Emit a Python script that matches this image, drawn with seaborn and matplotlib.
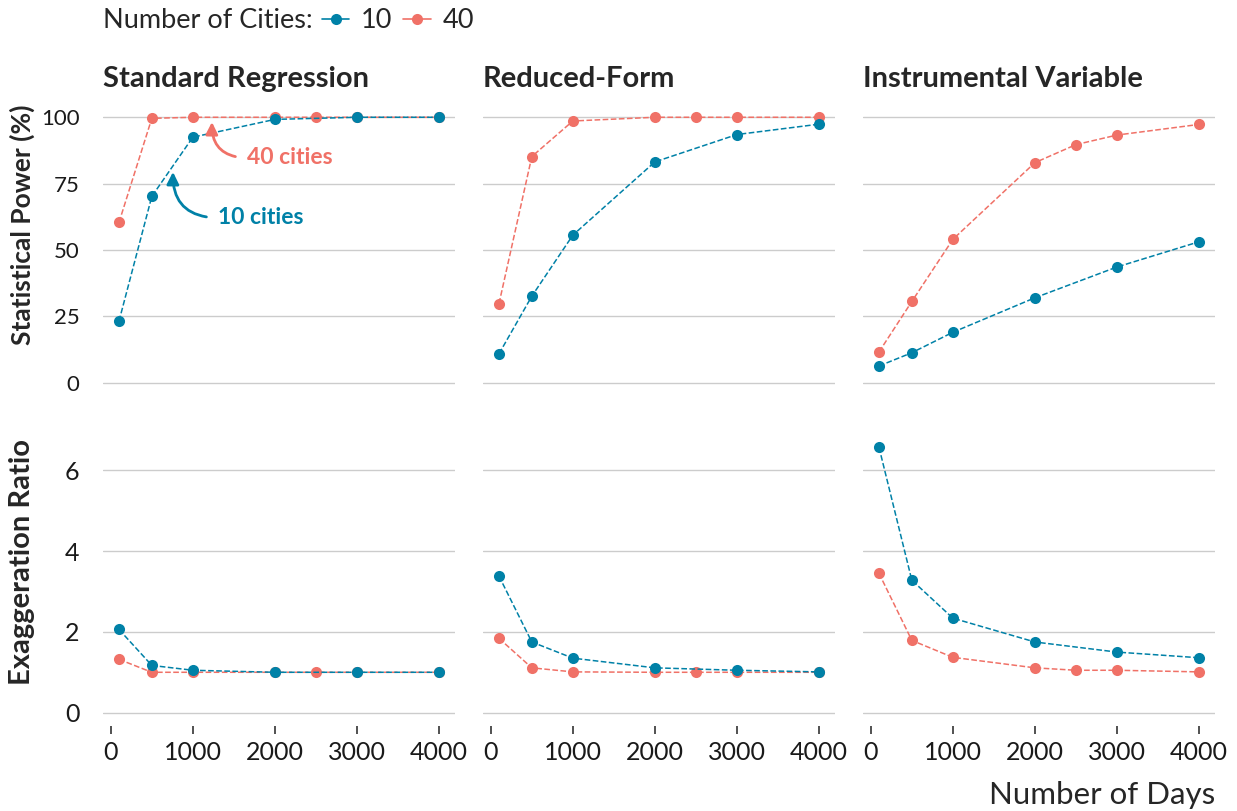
import numpy as np
import pandas as pd
import matplotlib.pyplot as plt
import seaborn as sns
from matplotlib.lines import Line2D

days_10 = [100, 500, 1000, 2000, 3000, 4000]
days_40 = [100, 500, 1000, 2000, 2500, 3000, 4000]

power_std_10 = [23.2, 70.2, 92.5, 99.2, 100.0, 100.0]
power_std_40 = [60.4, 99.6, 100.0, 100.0, 100.0, 100.0, 100.0]
power_rf_10 = [10.9, 32.6, 55.6, 83.2, 93.5, 97.4]
power_rf_40 = [29.8, 85.2, 98.6, 100.0, 100.0, 100.0, 100.0]
power_iv_10 = [6.3, 11.3, 19.0, 32.0, 43.6, 53.1]
power_iv_40 = [11.6, 30.6, 54.0, 82.9, 89.7, 93.3, 97.3]

exag_std_10 = [2.06, 1.17, 1.05, 1.0, 1.0, 1.0]
exag_std_40 = [1.32, 1.0, 1.0, 1.0, 1.0, 1.0, 1.0]
exag_rf_10 = [3.38, 1.75, 1.35, 1.11, 1.05, 1.01]
exag_rf_40 = [1.84, 1.11, 1.01, 1.0, 1.0, 1.0, 1.0]
exag_iv_10 = [6.57, 3.28, 2.34, 1.75, 1.50, 1.36]
exag_iv_40 = [3.45, 1.79, 1.37, 1.11, 1.05, 1.05, 1.01]

models = ["Standard Regression", "Reduced-Form", "Instrumental Variable"]
power_10 = [power_std_10, power_rf_10, power_iv_10]
power_40 = [power_std_40, power_rf_40, power_iv_40]
exag_10 = [exag_std_10, exag_rf_10, exag_iv_10]
exag_40 = [exag_std_40, exag_rf_40, exag_iv_40]

rows = []
for i, m in enumerate(models):
    for d, p, e in zip(days_10, power_10[i], exag_10[i]):
        rows.append((m, "10", d, p, e))
    for d, p, e in zip(days_40, power_40[i], exag_40[i]):
        rows.append((m, "40", d, p, e))
df = pd.DataFrame(rows, columns=["model", "cities", "days", "power", "exaggeration"])

blue = "#0081a7"
red = "#f07167"
palette = {"10": blue, "40": red}

sns.set_theme(style="whitegrid")
plt.rcParams["font.family"] = ["Lato", "DejaVu Sans"]

fig, axes = plt.subplots(2, 3, figsize=(12.37, 8.11), dpi=100)
fig.subplots_adjust(left=103 / 1237, right=1215 / 1237, top=1 - 104 / 811,
                    bottom=1 - 726 / 811, wspace=28 / 352, hspace=38 / 292)

for j, m in enumerate(models):
    sub = df[df["model"] == m]
    for i, col in enumerate(["power", "exaggeration"]):
        ax = axes[i, j]
        sns.lineplot(data=sub, x="days", y=col, hue="cities", hue_order=["40", "10"],
                     palette=palette, marker="o", markersize=8, markeredgewidth=0,
                     linestyle="--", linewidth=1.1, ax=ax, legend=False)
        ax.set_xlim(-95, 4195)
        ax.set_xticks([0, 1000, 2000, 3000, 4000])
        ax.set_xlabel("")
        ax.set_ylabel("")
        ax.grid(axis="x", visible=False)
        ax.grid(axis="y", color="#cccccc", linewidth=1)
        for s in ax.spines.values():
            s.set_visible(False)
        if i == 0:
            ax.set_ylim(-5, 105)
            ax.set_yticks([0, 25, 50, 75, 100])
            ax.tick_params(axis="x", bottom=False, labelbottom=False)
            ax.tick_params(axis="y", length=0, pad=17, labelsize=16, labelcolor="#1a1a1a")
            ax.set_title(m, loc="left", fontsize=21, fontweight="bold", pad=12)
        else:
            ax.set_ylim(-0.33, 6.9)
            ax.set_yticks([0, 2, 4, 6])
            ax.tick_params(axis="y", length=0, pad=17, labelsize=18, labelcolor="#1a1a1a")
            ax.tick_params(axis="x", length=6, width=1.2, color="#333333", pad=5,
                           labelsize=18, labelcolor="#1a1a1a", bottom=True)
        if j > 0:
            ax.tick_params(axis="y", labelleft=False)

# annotazioni
ax0 = axes[0, 0]
ax0.annotate("40 cities", xy=(1233, 98.2), xytext=(1659, 84.7), color=red,
             fontsize=16.5, fontweight="bold", va="center", ha="left",
             arrowprops=dict(arrowstyle="-|>", color=red, lw=2, mutation_scale=18,
                             shrinkA=6, shrinkB=0, relpos=(0, 0.5),
                             connectionstyle="arc3,rad=-0.5"))
ax0.annotate("10 cities", xy=(758, 79.4), xytext=(1306, 62.1), color=blue,
             fontsize=16.5, fontweight="bold", va="center", ha="left",
             arrowprops=dict(arrowstyle="-|>", color=blue, lw=2, mutation_scale=18,
                             shrinkA=6, shrinkB=0, relpos=(0, 0.5),
                             connectionstyle="arc3,rad=-0.5"))

fig.text(22 / 1237, 1 - 225 / 811, "Statistical Power (%)", rotation=90,
         ha="center", va="center", fontsize=19, fontweight="bold")
fig.text(22 / 1237, 1 - 562 / 811, "Exaggeration Ratio", rotation=90,
         ha="center", va="center", fontsize=21, fontweight="bold")
fig.text(1215 / 1237, 1 - 795 / 811, "Number of Days", ha="right", va="center",
         fontsize=22.5)

fig.text(103 / 1237, 1 - 21 / 811, "Number of Cities:", ha="left", va="center",
         fontsize=19.5)
handles = [Line2D([0], [0], color=blue, marker="o", markersize=8, markeredgewidth=0, lw=1.2),
           Line2D([0], [0], color=red, marker="o", markersize=8, markeredgewidth=0, lw=1.2)]
fig.legend(handles, ["10", "40"], loc="center left", bbox_to_anchor=(322 / 1237, 1 - 21 / 811),
           ncol=2, frameon=False, fontsize=19.5, handlelength=1.0, handletextpad=0.45,
           columnspacing=0.4, borderpad=0, borderaxespad=0)

plt.savefig("out.png", dpi=100)
